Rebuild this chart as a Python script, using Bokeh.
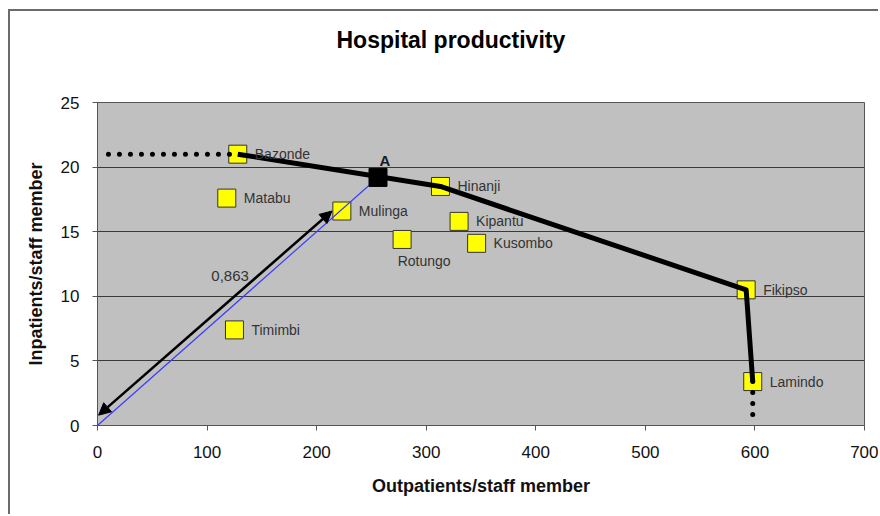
from bokeh.plotting import figure
from bokeh.models import (ColumnDataSource, FixedTicker, Arrow, NormalHead,
                          Range1d, Title)
from bokeh.core.properties import value
from bokeh.embed import file_html
from bokeh.resources import INLINE

# ---------------- data ----------------
hospitals = ["Bazonde", "Matabu", "Mulinga", "Hinanji", "Kipantu",
             "Kusombo", "Rotungo", "Fikipso", "Lamindo", "Timimbi"]
outpatients = [128, 118, 223, 313, 330, 346, 278, 592, 598, 125]
inpatients = [21.0, 17.6, 16.6, 18.5, 15.8, 14.1, 14.4, 10.5, 3.4, 7.4]
label_side = ["right", "right", "right", "right", "right",
              "right", "below", "right", "right", "right"]

frontier_names = ["Bazonde", "Hinanji", "Fikipso", "Lamindo"]
ext_h_x = [10, 128]
ext_h_y = [21.0, 21.0]
ext_v_x = [598, 598]
ext_v_y = [3.4, 0.8]

point_a_x = [256]
point_a_y = [19.2]
point_a_label = ["A"]

arrow_start = (1, 0.8)
arrow_end = (214, 16.6)
ratio_text = ["0,863"]
ratio_x = [121]
ratio_y = [11.6]

x_ticks = [0, 100, 200, 300, 400, 500, 600, 700]
y_ticks = [0, 5, 10, 15, 20, 25]

chart_title = "Hospital productivity"

FONT = "Liberation Sans"

# ---------------- figure ----------------
p = figure(width=870, height=505, output_backend="svg", toolbar_location=None,
           title=None,
           x_range=Range1d(0, 700), y_range=Range1d(0, 25),
           min_border_left=87, min_border_right=16,
           min_border_top=91, min_border_bottom=91)
p.styles = {"border-left": "2px solid #6b6b6b",
            "border-top": "2px solid #6b6b6b",
            "margin-left": "8px", "margin-top": "9px"}
p.background_fill_color = "#C0C0C0"
p.border_fill_color = "white"
p.outline_line_color = "#555555"
p.outline_line_width = 1

# spacer between frame and title (closest to the frame)
p.add_layout(Title(text=" ", text_font=FONT, text_font_size="30px"), "above")
p.add_layout(Title(text=chart_title, text_font=FONT, text_font_size="23px",
                   text_font_style="bold", text_color="black",
                   align="left", offset=239), "above")

p.xgrid.grid_line_color = None
p.ygrid.grid_line_color = "#3a3a3a"
p.ygrid.grid_line_width = 1

for ax in (p.xaxis[0], p.yaxis[0]):
    ax.major_label_text_font = FONT
    ax.major_label_text_font_size = "17px"
    ax.major_label_text_color = "#111111"
    ax.axis_label_text_font = FONT
    ax.axis_label_text_font_size = "18px"
    ax.axis_label_text_font_style = "bold"
    ax.axis_label_text_color = "#111111"
    ax.major_tick_in = 0
    ax.major_tick_out = 5
    ax.minor_tick_line_color = None
    ax.major_tick_line_color = "#555555"
    ax.axis_line_color = "#555555"
    ax.axis_line_width = 1

p.xaxis[0].ticker = FixedTicker(ticks=x_ticks)
p.yaxis[0].ticker = FixedTicker(ticks=y_ticks)
p.xaxis[0].axis_label = "Outpatients/staff member"
p.yaxis[0].axis_label = "Inpatients/staff member"
p.xaxis[0].major_label_standoff = 15
p.yaxis[0].major_label_standoff = 13
p.xaxis[0].axis_label_standoff = 15
p.yaxis[0].axis_label_standoff = 12

# ---------------- marks ----------------
src = ColumnDataSource(dict(x=outpatients, y=inpatients, name=hospitals))
p.scatter("x", "y", source=src, marker="square", size=18,
          fill_color="#FFFF00", line_color="#333333", line_width=1)

# blue ray from origin to A
p.line([0, point_a_x[0]], [0, point_a_y[0]], line_color="#3b3bff", line_width=1.2)

# frontier
fx = [outpatients[hospitals.index(n)] for n in frontier_names]
fy = [inpatients[hospitals.index(n)] for n in frontier_names]
p.line(fx, fy, line_color="black", line_width=5, line_join="round")
p.line(ext_h_x, ext_h_y, line_color="black", line_width=5,
       line_dash="0 11", line_cap="round")
p.line(ext_v_x, ext_v_y, line_color="black", line_width=5,
       line_dash="0 11", line_cap="round")

# point A
p.scatter(point_a_x, point_a_y, marker="square", size=18,
          fill_color="black", line_color="black")
p.text(point_a_x, point_a_y, text=point_a_label, x_offset=7, y_offset=-17,
       text_font=value(FONT), text_font_size="15px", text_font_style="bold",
       text_color="#1a1a1a", text_align="center", text_baseline="middle")

# double-headed arrow
p.add_layout(Arrow(x_start=arrow_start[0], y_start=arrow_start[1],
                   x_end=arrow_end[0], y_end=arrow_end[1],
                   line_color="black", line_width=2.5,
                   start=NormalHead(size=12, fill_color="black", line_color="black"),
                   end=NormalHead(size=12, fill_color="black", line_color="black")))
p.text(ratio_x, ratio_y, text=ratio_text, text_font=value(FONT),
       text_font_size="15px", text_color="#333333",
       text_align="center", text_baseline="middle")

# hospital labels
rx = [x for x, s in zip(outpatients, label_side) if s == "right"]
ry = [y for y, s in zip(inpatients, label_side) if s == "right"]
rn = [n for n, s in zip(hospitals, label_side) if s == "right"]
bx = [x for x, s in zip(outpatients, label_side) if s == "below"]
by = [y for y, s in zip(inpatients, label_side) if s == "below"]
bn = [n for n, s in zip(hospitals, label_side) if s == "below"]
p.text(rx, ry, text=rn, x_offset=17, text_font=value(FONT),
       text_font_size="14px", text_color="#333333",
       text_align="left", text_baseline="middle")
p.text(bx, by, text=bn, x_offset=22, y_offset=22, text_font=value(FONT),
       text_font_size="14px", text_color="#333333",
       text_align="center", text_baseline="middle")

open("out.html", "w").write(file_html(p, INLINE))
